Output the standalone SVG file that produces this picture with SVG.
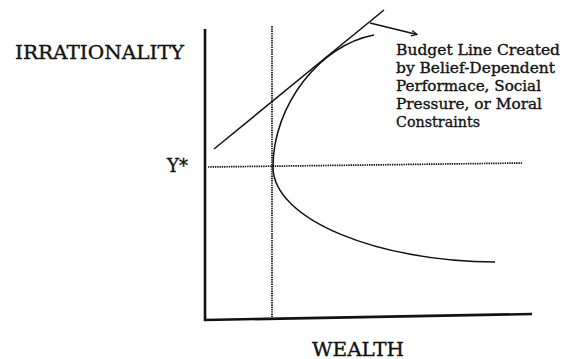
<svg xmlns="http://www.w3.org/2000/svg" width="562" height="359" viewBox="0 0 562 359">
<style>
.t{font-family:"DejaVu Serif","Liberation Serif",serif;fill:#111;stroke:#111;stroke-width:0.35;}
.lbl{font-size:19px;}
.note{font-size:15px;}
.axis{stroke:#111;stroke-width:2.6;fill:none;}
.ln{stroke:#111;stroke-width:1.5;fill:none;}
.dot{stroke:#111;stroke-width:1.7;stroke-dasharray:1.4 0.9;fill:none;}
</style>
<defs>
<marker id="ah" viewBox="0 0 10 10" refX="9" refY="5" markerWidth="7" markerHeight="7" orient="auto" markerUnits="userSpaceOnUse">
<path d="M1,1 L9,5 L1,9" fill="none" stroke="#111" stroke-width="1.6"/>
</marker>
</defs>
<rect width="562" height="359" fill="#fff"/>
<g id="axes">
<line class="axis" x1="205" y1="29" x2="205" y2="321"/>
<line class="axis" x1="204" y1="320" x2="532" y2="314"/>
</g>
<g id="guides">
<line class="dot" x1="272" y1="26" x2="272" y2="317"/>
<line class="dot" x1="208" y1="167" x2="523" y2="163"/>
</g>
<g id="curve">
<path class="ln" d="M374,35 C320,45 273,105 273,167 C273,220 380,262 495,262"/>
</g>
<g id="budget-line">
<line class="ln" x1="214" y1="149" x2="384" y2="10"/>
</g>
<g id="connectors">
<line class="ln" x1="370" y1="23" x2="417" y2="34.5" marker-end="url(#ah)"/>
</g>
<g id="label-y">
<text class="t lbl" x="15" y="59" textLength="169" lengthAdjust="spacingAndGlyphs">IRRATIONALITY</text>
</g>
<g id="label-ystar">
<text class="t" x="167" y="172" font-size="18" textLength="21" lengthAdjust="spacingAndGlyphs">Y*</text>
</g>
<g id="label-x">
<text class="t lbl" x="312" y="356" textLength="92" lengthAdjust="spacingAndGlyphs">WEALTH</text>
</g>
<g id="annotation">
<text class="t note" x="396" y="55" textLength="164" lengthAdjust="spacingAndGlyphs">Budget Line Created</text>
<text class="t note" x="396" y="73" textLength="159" lengthAdjust="spacingAndGlyphs">by Belief-Dependent</text>
<text class="t note" x="396" y="91" textLength="145" lengthAdjust="spacingAndGlyphs">Performace, Social</text>
<text class="t note" x="396" y="109" textLength="146" lengthAdjust="spacingAndGlyphs">Pressure, or Moral</text>
<text class="t note" x="396" y="127" textLength="84" lengthAdjust="spacingAndGlyphs">Constraints</text>
</g>
</svg>
